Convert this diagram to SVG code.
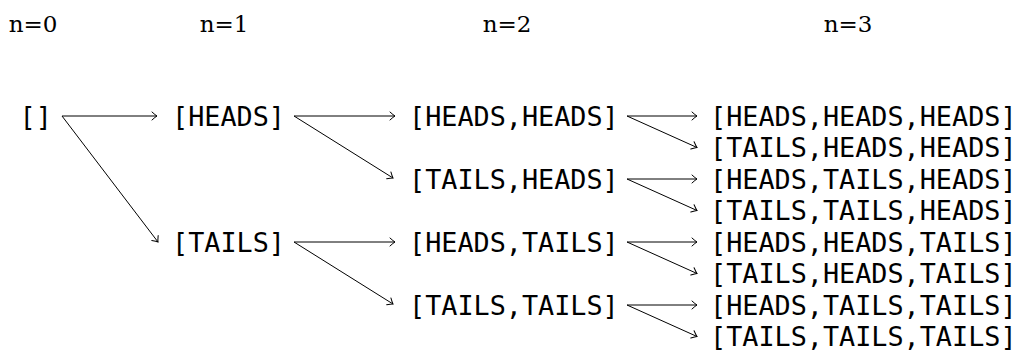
<svg xmlns="http://www.w3.org/2000/svg" width="1019" height="354" viewBox="0 0 1019 354">
  <style>
    .hdr { font-family: "DejaVu Serif", serif; font-size: 23px; fill: #000; text-anchor: middle; }
    .lbl { font-family: "DejaVu Sans Mono", monospace; font-size: 26.8px; fill: #000; dominant-baseline: central; }
    .edge { stroke: #000; stroke-width: 1; fill: none; marker-end: url(#to); }
  </style>
  <defs>
    <marker id="to" markerUnits="userSpaceOnUse" viewBox="-7 -5 8 10" refX="0" refY="0" markerWidth="8" markerHeight="10" orient="auto">
      <path d="M -5 -4 Q -1.5 -0.8 0 0 Q -1.5 0.8 -5 4" stroke="#000" stroke-width="1" fill="none" stroke-linecap="round"/>
    </marker>
  </defs>
  <rect width="1019" height="354" fill="#fff"/>

  <!-- level headings -->
  <g id="headings">
    <text class="hdr" x="33" y="32">n=0</text>
    <text class="hdr" x="224" y="32">n=1</text>
    <text class="hdr" x="507" y="32">n=2</text>
    <text class="hdr" x="848" y="32">n=3</text>
  </g>

  <!-- connectors -->
  <g id="edges">
    <line class="edge" x1="62" y1="116" x2="157" y2="116"/>
    <line class="edge" x1="62" y1="116" x2="158" y2="242"/>

    <line class="edge" x1="294" y1="116" x2="395" y2="116"/>
    <line class="edge" x1="294" y1="116" x2="393" y2="178"/>
    <line class="edge" x1="294" y1="242" x2="395" y2="242"/>
    <line class="edge" x1="294" y1="242" x2="393" y2="304"/>

    <line class="edge" x1="627" y1="116" x2="697" y2="116"/>
    <line class="edge" x1="627" y1="116" x2="697" y2="147.5"/>
    <line class="edge" x1="627" y1="179" x2="697" y2="179"/>
    <line class="edge" x1="627" y1="179" x2="697" y2="210.5"/>
    <line class="edge" x1="627" y1="242" x2="697" y2="242"/>
    <line class="edge" x1="627" y1="242" x2="697" y2="273.5"/>
    <line class="edge" x1="627" y1="305" x2="697" y2="305"/>
    <line class="edge" x1="627" y1="305" x2="697" y2="336.5"/>
  </g>

  <!-- nodes -->
  <g id="n0"><text class="lbl" x="19.5" y="116">[]</text></g>

  <g id="n1-H"><text class="lbl" x="172" y="116">[HEADS]</text></g>
  <g id="n1-T"><text class="lbl" x="172" y="242">[TAILS]</text></g>

  <g id="n2-HH"><text class="lbl" x="409" y="116">[HEADS,HEADS]</text></g>
  <g id="n2-TH"><text class="lbl" x="409" y="179">[TAILS,HEADS]</text></g>
  <g id="n2-HT"><text class="lbl" x="409" y="242">[HEADS,TAILS]</text></g>
  <g id="n2-TT"><text class="lbl" x="409" y="305">[TAILS,TAILS]</text></g>

  <g id="n3-HHH"><text class="lbl" x="710" y="116">[HEADS,HEADS,HEADS]</text></g>
  <g id="n3-THH"><text class="lbl" x="710" y="147.5">[TAILS,HEADS,HEADS]</text></g>
  <g id="n3-HTH"><text class="lbl" x="710" y="179">[HEADS,TAILS,HEADS]</text></g>
  <g id="n3-TTH"><text class="lbl" x="710" y="210.5">[TAILS,TAILS,HEADS]</text></g>
  <g id="n3-HHT"><text class="lbl" x="710" y="242">[HEADS,HEADS,TAILS]</text></g>
  <g id="n3-THT"><text class="lbl" x="710" y="273.5">[TAILS,HEADS,TAILS]</text></g>
  <g id="n3-HTT"><text class="lbl" x="710" y="305">[HEADS,TAILS,TAILS]</text></g>
  <g id="n3-TTT"><text class="lbl" x="710" y="336.5">[TAILS,TAILS,TAILS]</text></g>
</svg>
